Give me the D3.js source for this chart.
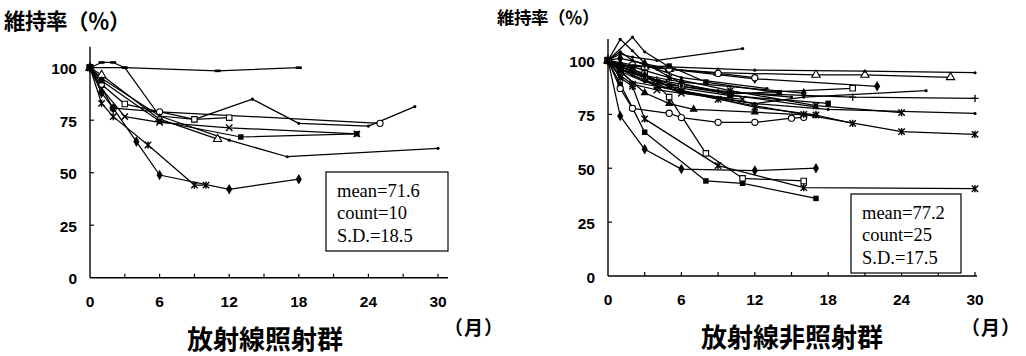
<!DOCTYPE html>
<html lang="ja">
<head>
<meta charset="utf-8">
<script src="https://cdn.jsdelivr.net/npm/d3@7"></script>
<style>
  html, body { margin: 0; padding: 0; background: #fff; }
  svg { display: block; }
  .tick-label { font-family: "Liberation Sans", Arial, sans-serif; font-weight: bold; font-size: 15.5px; fill: #000; }
  .title { font-family: "Noto Sans CJK JP", sans-serif; font-weight: bold; fill: #000; }
  .group-label { font-family: "Noto Sans CJK JP", sans-serif; font-weight: bold; font-size: 26px; fill: #000; }
  .unit { font-family: "Noto Sans CJK JP", sans-serif; font-weight: bold; font-size: 19px; fill: #000; }
  .stats { font-family: "Liberation Serif", "Times New Roman", serif; font-size: 18.5px; fill: #000; }
</style>
</head>
<body>
<svg id="chart" width="1026" height="356"></svg>
<script>
// Axis ticks and labels
const xLabelMonths = [0, 6, 12, 18, 24, 30];
const xTickMonths = [3, 6, 9, 12, 15, 18, 21, 24, 27, 30];
const yTickValues = [0, 25, 50, 75, 100];

// Irradiated group: retention rate (%) by month, one array per patient
const irr01 = [[0,100],[1,102.5],[2,102.5],[3,100],[11,98.5],[18,100]];
const irr02 = [[0,100],[3,100],[6,77],[9,75.4],[14,85],[18,73.5],[24,72.2],[28,81.5]];
const irr03 = [[0,100],[2,80.7],[6,79],[25,73.5]];
const irr04 = [[0,100],[1,92],[3,82.7],[9,75.4],[12,76.2]];
const irr05 = [[0,100],[1,90],[3,76.7],[6,74],[12,71.4],[23,68.5]];
const irr06 = [[0,100],[1,96.5],[6,75.5],[11,66]];
const irr07 = [[0,100],[1,95],[6,77],[12,65.5],[17,57.6],[30,61.6]];
const irr08 = [[0,100],[1,88],[2,80.7],[4,64.8],[6,48.9],[12,42.1],[18,46.9]];
const irr09 = [[0,100],[1,83],[2,76.7],[5,63.2],[9,44.1],[10,44.1]];
const irr10 = [[0,100],[1,93.8],[6,74.5],[13,67],[23,68.5]];
const irradiated = [irr01, irr02, irr03, irr04, irr05, irr06, irr07, irr08, irr09, irr10];
const irradiatedMarkers = ["dash","dot","circleOpen","squareOpen","x","triangleOpen","dot","diamond","star","square"];
const irradiatedStats = ["mean=71.6", "count=10", "S.D.=18.5"];

// Non-irradiated group: retention rate (%) by month, one array per patient
const non01 = [[0,100],[1,74.2],[3,58.8],[6,49.6],[12,48.9],[17,50]];
const non02 = [[0,100],[1,89],[2,78],[3,66.7],[8,44.1],[11,43],[17,36]];
const non03 = [[0,100],[1,97],[3,94],[5,83],[8,56.9],[11,45.3],[16,44.1]];
const non04 = [[0,100],[1,92],[2,88],[3,72.9],[9,51.2],[16,41],[30,40.5]];
const non05 = [[0,100],[1,87],[2,77.8],[5,75.5],[6,73.5],[9,71.3],[12,71.3],[15,73.2],[16,73.6]];
const non06 = [[0,100],[1,103],[2,101.5],[4,100],[11,105.5]];
const non07 = [[0,100],[1,98],[3,97],[5,96],[9,94.3],[17,93.3],[21,93.3],[28,92.2]];
const non08 = [[0,100],[2,110.8],[3,104],[5,97],[12,95.5],[21,95],[30,94.3]];
const non09 = [[0,100],[1,101],[3,98.5],[5,96],[12,91.5],[22,88]];
const non10 = [[0,100],[1,96],[3,92],[6,88],[10,84.5],[20,87.1]];
const non11 = [[0,100],[2,90],[6,86],[12,80],[16,83],[26,86]];
const non12 = [[0,100],[1,96],[4,91],[10,85],[20,83],[30,82.4]];
const non13 = [[0,100],[2,96],[5,88],[10,83.7],[18,80.1]];
const non14 = [[0,100],[2,97],[5,92],[10,86],[17,79],[24,75.8]];
const non15 = [[0,100],[2,93],[6,85],[12,80],[18,77.3],[30,75.4]];
const non16 = [[0,100],[3,92],[6,86],[12,78.3],[17,74.7],[20,70.8]];
const non17 = [[0,100],[1,96],[4,88],[9,82],[16,75],[24,67],[30,65.7]];
const non18 = [[0,100],[1,95],[3,85],[5,80],[7,77.3],[12,76],[17,74.5]];
const non19 = [[0,100],[1,97],[3,93],[6,90],[16,84.8]];
const non20 = [[0,100],[2,98],[5,96],[9,94],[12,92]];
const non21 = [[0,100],[1,109.8],[2,104.5],[3,98.7],[6,89.4],[10,84],[17,78.5]];
const non22 = [[0,100],[1,104],[2,100],[4,96],[6,92],[13,87]];
const non23 = [[0,100],[1,93],[2,89],[4,86.3],[6,84.8],[11,82]];
const non24 = [[0,100],[1,98],[2,97],[5,97.4],[8,90],[14,85]];
const non25 = [[0,100],[1,95],[3,90],[6,88],[9,86],[15,83]];
const nonIrradiated = [non01, non02, non03, non04, non05, non06, non07, non08, non09, non10,
  non11, non12, non13, non14, non15, non16, non17, non18, non19, non20,
  non21, non22, non23, non24, non25];
const nonIrradiatedMarkers = ["diamond","square","squareOpen","star","circleOpen","dot","triangleOpen","dot",
  "diamond","squareOpen","dot","plus","square","star","dot","star","star","triangle","diamond","circleOpen",
  "dot","dot","x","square","dot"];
const nonIrradiatedStats = ["mean=77.2", "count=25", "S.D.=17.5"];

const svg = d3.select("#chart");

function drawMarker(g, type, x, y) {
  const sym = (t, size) => d3.symbol().type(t).size(size)();
  let m;
  switch (type) {
    case "diamond": m = g.append("path").attr("d", sym(d3.symbolDiamond, 32)).attr("fill", "#000"); break;
    case "square": m = g.append("path").attr("d", sym(d3.symbolSquare, 30)).attr("fill", "#000"); break;
    case "triangle": m = g.append("path").attr("d", sym(d3.symbolTriangle, 30)).attr("fill", "#000"); break;
    case "squareOpen": m = g.append("path").attr("d", sym(d3.symbolSquare, 30)).attr("fill", "#fff").attr("stroke", "#000").attr("stroke-width", 1.1); break;
    case "triangleOpen": m = g.append("path").attr("d", sym(d3.symbolTriangle, 30)).attr("fill", "#fff").attr("stroke", "#000").attr("stroke-width", 1.1); break;
    case "circleOpen": m = g.append("path").attr("d", sym(d3.symbolCircle, 30)).attr("fill", "#fff").attr("stroke", "#000").attr("stroke-width", 1.1); break;
    case "x": m = g.append("path").attr("d", "M-3.2,-3.2L3.2,3.2M-3.2,3.2L3.2,-3.2").attr("stroke", "#000").attr("stroke-width", 1.4); break;
    case "star": m = g.append("path").attr("d", "M-3.2,-3.2L3.2,3.2M-3.2,3.2L3.2,-3.2M0,-3.6L0,3.6").attr("stroke", "#000").attr("stroke-width", 1.4); break;
    case "plus": m = g.append("path").attr("d", "M-3.6,0L3.6,0M0,-3.6L0,3.6").attr("stroke", "#000").attr("stroke-width", 1.3); break;
    case "dash": m = g.append("rect").attr("x", -3).attr("y", -1.3).attr("width", 6).attr("height", 2.6).attr("fill", "#000"); break;
    default: m = g.append("circle").attr("r", 1.6).attr("fill", "#000");
  }
  m.attr("transform", `translate(${x},${y})`);
}

function drawPanel(opt) {
  const x = d3.scaleLinear().domain([0, 30]).range([opt.x0, opt.x30]);
  const y = d3.scaleLinear().domain([0, 110]).range([opt.yBottom, opt.yTop]);
  const g = svg.append("g");

  // axes
  const axisColor = "#000";
  g.append("line").attr("x1", x(0)).attr("x2", x(0)).attr("y1", y(110)).attr("y2", y(0))
    .attr("stroke", axisColor).attr("stroke-width", 1.4);
  g.append("line").attr("x1", x(0)).attr("x2", opt.xEnd).attr("y1", y(0)).attr("y2", y(0))
    .attr("stroke", axisColor).attr("stroke-width", 1.4);
  g.selectAll(".xt").data(xTickMonths).join("line")
    .attr("x1", d => x(d)).attr("x2", d => x(d)).attr("y1", y(0)).attr("y2", y(0) - 4)
    .attr("stroke", axisColor).attr("stroke-width", 1.2);
  g.selectAll(".yt").data(yTickValues.filter(v => v > 0)).join("line")
    .attr("x1", x(0)).attr("x2", x(0) + 4).attr("y1", d => y(d)).attr("y2", d => y(d))
    .attr("stroke", axisColor).attr("stroke-width", 1.2);

  g.selectAll(".xl").data(xLabelMonths).join("text")
    .attr("class", "tick-label").attr("text-anchor", "middle")
    .attr("x", d => x(d)).attr("y", y(0) + 29).text(d => d);
  g.selectAll(".yl").data(yTickValues).join("text")
    .attr("class", "tick-label").attr("text-anchor", "end").attr("dominant-baseline", "central")
    .attr("x", x(0) - 13).attr("y", d => y(d) + 1).text(d => d);

  // patient lines
  const line = d3.line().x(d => x(d[0])).y(d => y(d[1]));
  opt.series.forEach(s => {
    g.append("path").attr("d", line(s)).attr("fill", "none")
      .attr("stroke", "#000").attr("stroke-width", 1.25).attr("stroke-linejoin", "round");
  });
  opt.series.forEach((s, i) => {
    s.forEach(p => drawMarker(g, opt.markers[i], x(p[0]), y(p[1])));
  });

  // statistics box
  const b = opt.box;
  g.append("rect").attr("x", b.x).attr("y", b.y).attr("width", b.w).attr("height", b.h)
    .attr("fill", "#fff").attr("stroke", "#000").attr("stroke-width", 1.2);
  g.selectAll(".st").data(opt.stats).join("text").attr("class", "stats")
    .attr("x", b.x + 11).attr("y", (d, i) => b.y + 25 + i * 22.3).text(d => d);

  // titles
  g.append("text").attr("class", "title").attr("x", opt.titleX).attr("y", opt.titleY)
    .style("font-size", opt.titleSize + "px").attr("letter-spacing", -0.5).text("維持率（％）");

  g.append("text").attr("class", "group-label").attr("text-anchor", "middle")
    .attr("x", opt.labelX).attr("y", opt.labelY).text(opt.label);
  g.append("text").attr("class", "unit").attr("x", opt.unitX).attr("y", opt.unitY)
    .attr("letter-spacing", 1).text("（月）");
}

drawPanel({
  x0: 90, x30: 438, xEnd: 448, yBottom: 277.7, yTop: 46.7,
  series: irradiated, markers: irradiatedMarkers, stats: irradiatedStats,
  box: { x: 326, y: 172, w: 122, h: 79 },
  titleX: 4, titleY: 29, titleSize: 21.5,
  label: "放射線照射群", labelX: 265, labelY: 349,
  unitX: 444, unitY: 335
});

drawPanel({
  x0: 608, x30: 975, xEnd: 977, yBottom: 276, yTop: 38.9,
  series: nonIrradiated, markers: nonIrradiatedMarkers, stats: nonIrradiatedStats,
  box: { x: 851, y: 194, w: 110, h: 79 },
  titleX: 497, titleY: 24, titleSize: 17.5,
  label: "放射線非照射群", labelX: 792, labelY: 347,
  unitX: 961, unitY: 335
});
</script>
</body>
</html>
